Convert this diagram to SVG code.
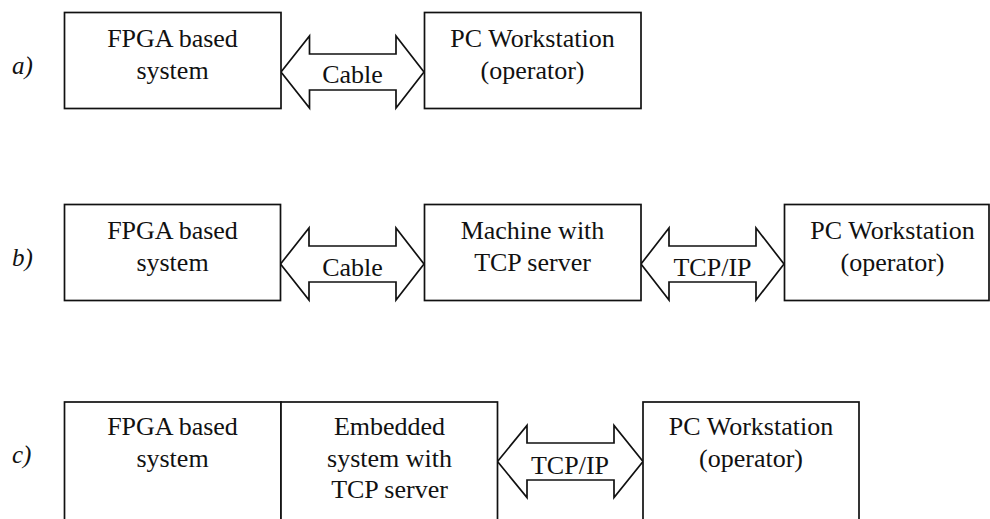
<svg xmlns="http://www.w3.org/2000/svg" width="990" height="519" viewBox="0 0 990 519">
  <style>
    .box { fill: #fff; stroke: #111; stroke-width: 1.7; }
    .link { fill: #fff; stroke: #111; stroke-width: 1.7; stroke-linejoin: miter; }
    text { font-family: "Liberation Serif", Tinos, "Nimbus Roman", "Noto Serif", "DejaVu Serif", FreeSerif, "Times New Roman", serif; font-size: 26px; fill: #111; text-anchor: middle; }
    .tag { font-style: italic; text-anchor: start; font-size: 25px; }
  </style>
  <rect width="990" height="519" fill="#fff"/>

  <!-- row labels -->
  <text class="tag" x="12" y="74">a)</text>
  <text class="tag" x="12" y="266">b)</text>
  <text class="tag" x="12" y="463">c)</text>

  <!-- connectors: double-headed block arrows -->
  <g id="connectors">
    <g id="link-a">
      <polygon class="link" points="281,72 309.5,36 309.5,54 396,54 396,36 424,72 396,108 396,90 309.5,90 309.5,108"/>
      <text x="352.5" y="83">Cable</text>
    </g>
    <g id="link-b1">
      <polygon class="link" points="280.5,264 309,228 309,246 396,246 396,228 424,264 396,300 396,282 309,282 309,300"/>
      <text x="352.5" y="276">Cable</text>
    </g>
    <g id="link-b2">
      <polygon class="link" points="641,264 669,228 669,246 756,246 756,228 784,264 756,300 756,282 669,282 669,300"/>
      <text x="712.5" y="276">TCP/IP</text>
    </g>
    <g id="link-c">
      <polygon class="link" points="497.5,461.5 527,425.5 527,443 614,443 614,425.5 643,461.5 614,497.5 614,480 527,480 527,497.5"/>
      <text x="570" y="474">TCP/IP</text>
    </g>
  </g>

  <!-- a) direct cable link -->
  <g id="a-fpga">
    <rect class="box" x="64.5" y="12.5" width="216.5" height="96"/>
    <text x="172.5" y="47">FPGA based</text>
    <text x="172.5" y="79">system</text>
  </g>
  <g id="a-pc">
    <rect class="box" x="424.5" y="12.5" width="216.5" height="96"/>
    <text x="532.5" y="47">PC Workstation</text>
    <text x="532.5" y="79">(operator)</text>
  </g>

  <!-- b) relay through a TCP server machine -->
  <g id="b-fpga">
    <rect class="box" x="64.5" y="204.5" width="216" height="96"/>
    <text x="172.5" y="239">FPGA based</text>
    <text x="172.5" y="271">system</text>
  </g>
  <g id="b-server">
    <rect class="box" x="424.5" y="204.5" width="216.5" height="96"/>
    <text x="532.5" y="239">Machine with</text>
    <text x="532.5" y="271">TCP server</text>
  </g>
  <g id="b-pc">
    <rect class="box" x="784.5" y="204.5" width="204.5" height="96"/>
    <text x="892.5" y="239">PC Workstation</text>
    <text x="892.5" y="271">(operator)</text>
  </g>

  <!-- c) embedded TCP server next to the FPGA -->
  <g id="c-fpga">
    <rect class="box" x="64.5" y="402" width="216.5" height="130"/>
    <text x="172.5" y="435">FPGA based</text>
    <text x="172.5" y="467">system</text>
  </g>
  <g id="c-embedded">
    <rect class="box" x="281" y="402" width="216.5" height="130"/>
    <text x="389.5" y="435">Embedded</text>
    <text x="389.5" y="467">system with</text>
    <text x="389.5" y="498">TCP server</text>
  </g>
  <g id="c-pc">
    <rect class="box" x="643" y="402" width="216" height="130"/>
    <text x="751" y="435">PC Workstation</text>
    <text x="751" y="467">(operator)</text>
  </g>
</svg>
